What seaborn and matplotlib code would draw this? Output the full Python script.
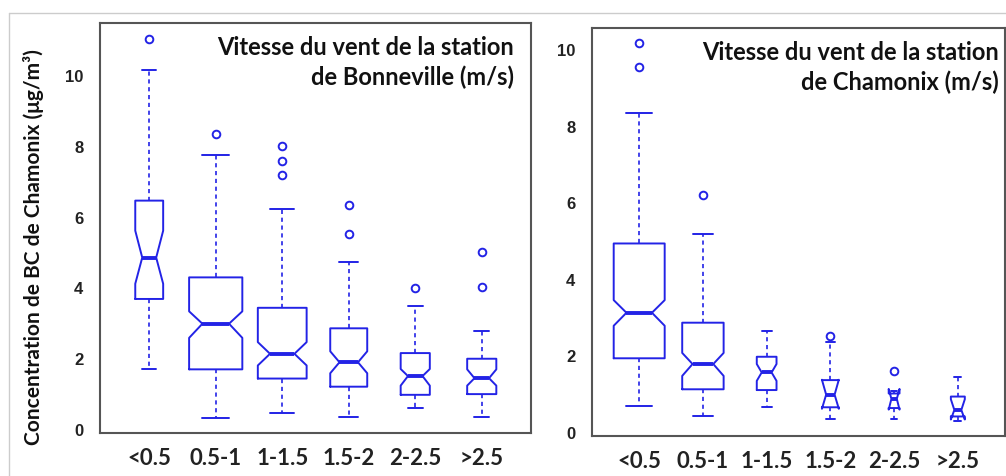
import numpy as np
import matplotlib
matplotlib.use("Agg")
import matplotlib.pyplot as plt
from matplotlib.lines import Line2D
import seaborn as sns

# classes de vitesse du vent (m/s)
categories = ['<0.5', '0.5-1', '1-1.5', '1.5-2', '2-2.5', '>2.5']

# station de Bonneville : statistiques des boîtes (µg/m3)
bon_n = [33, 120, 101, 58, 36, 36]
bon_whislo = [1.68, 0.30, 0.44, 0.32, 0.60, 0.32]
bon_q1 = [3.67, 1.68, 1.42, 1.19, 0.96, 0.98]
bon_med = [4.84, 2.97, 2.12, 1.88, 1.49, 1.43]
bon_q3 = [6.45, 4.28, 3.42, 2.84, 2.14, 1.98]
bon_whishi = [10.15, 7.74, 6.20, 4.72, 3.47, 2.76]
bon_cilo = [4.10, 2.57, 1.79, 1.57, 1.22, 1.22]
bon_cihi = [5.60, 3.32, 2.45, 2.19, 1.69, 1.68]
bon_fliers = [[11.02], [8.32], [7.98, 7.57, 7.18], [6.33, 5.52], [3.99], [5.01, 4.01]]

# station de Chamonix
cha_n = [200, 132, 30, 22, 9, 15]
cha_whislo = [0.68, 0.42, 0.64, 0.33, 0.33, 0.28]
cha_q1 = [1.92, 1.11, 1.09, 0.64, 0.62, 0.40]
cha_med = [3.11, 1.77, 1.55, 0.97, 0.86, 0.57]
cha_q3 = [4.92, 2.85, 1.96, 1.35, 1.00, 0.92]
cha_whishi = [8.33, 5.17, 2.64, 2.34, 1.07, 1.42]
cha_cilo = [2.77, 1.46, 1.33, 0.60, 0.58, 0.32]
cha_cihi = [3.44, 2.06, 1.77, 1.36, 1.12, 0.85]
cha_fliers = [[10.16, 9.54], [6.18], [], [2.49], [1.58], []]

yticks = [0, 2, 4, 6, 8, 10]
bleu = '#2323e6'

sns.set_style('white')
plt.rcParams['font.family'] = ['Lato', 'DejaVu Sans']


def boites(ax, n, whislo, q1, med, q3, whishi, cilo, cihi, fliers, titre, ylim, xtitre):
    stats = []
    for i in range(len(categories)):
        stats.append(dict(med=med[i], q1=q1[i], q3=q3[i], whislo=whislo[i],
                          whishi=whishi[i], cilo=cilo[i], cihi=cihi[i],
                          fliers=fliers[i], label=categories[i]))
    # largeur proportionnelle à la racine de l'effectif (varwidth)
    widths = [0.8 * np.sqrt(k) / np.sqrt(max(n)) for k in n]
    pos = np.arange(1, len(categories) + 1)
    ax.bxp(stats, positions=pos, widths=widths, shownotches=True,
           boxprops=dict(color=bleu, linewidth=1.4),
           medianprops=dict(color=bleu, linewidth=2.8, solid_capstyle='butt'),
           whiskerprops=dict(color=bleu, linewidth=1.2, linestyle=(0, (2.5, 2.2))),
           capprops=dict(color=bleu, linewidth=1.4),
           flierprops=dict(marker='o', markerfacecolor='none', markeredgecolor=bleu,
                           markersize=5.5, markeredgewidth=1.4))
    ax.set_xlim(0.26, 6.74)
    ax.set_ylim(*ylim)
    ax.set_yticks(yticks)
    ax.set_yticklabels([str(t) for t in yticks], family=['Liberation Sans', 'DejaVu Sans'],
                       fontweight='bold', fontsize=12, color='#222222')
    ax.set_xticks(pos)
    ax.set_xticklabels(categories, fontweight='bold', fontsize=16, color='#222222')
    ax.tick_params(axis='x', length=0, pad=10)
    ax.tick_params(axis='y', direction='in', length=6, width=1.2, color='#555555', pad=12)
    for s in ax.spines.values():
        s.set_color('#555555')
        s.set_linewidth(1.5)
    ax.text(xtitre, 0.97, titre, transform=ax.transAxes, ha='right', va='top',
            fontsize=17, fontweight='bold', linespacing=1.3, color='#111111')


fig = plt.figure(figsize=(10.06, 4.77), dpi=100)
ax1 = fig.add_axes([0.0994, 0.0901, 0.4284, 0.8595])
ax2 = fig.add_axes([0.5885, 0.0839, 0.4105, 0.8553])

boites(ax1, bon_n, bon_whislo, bon_q1, bon_med, bon_q3, bon_whishi, bon_cilo, bon_cihi,
       bon_fliers, 'Vitesse du vent de la station\nde Bonneville (m/s)', (-0.12, 11.47), 0.96)
boites(ax2, cha_n, cha_whislo, cha_q1, cha_med, cha_q3, cha_whishi, cha_cilo, cha_cihi,
       cha_fliers, 'Vitesse du vent de la station\nde Chamonix (m/s)', (-0.11, 10.55), 0.985)

ax1.set_ylabel('Concentration de BC de Chamonix (μg/m³)', fontsize=15,
               fontweight='bold', color='#111111')
ax1.yaxis.set_label_coords(-0.13, 0.455)

# cadre gris clair de la capture
fig.add_artist(Line2D([0.009, 1.0], [0.971, 0.971], color='#cccccc', linewidth=1))
fig.add_artist(Line2D([0.009, 0.009], [0.0, 0.971], color='#cccccc', linewidth=1))

plt.savefig('out.png', dpi=100)
